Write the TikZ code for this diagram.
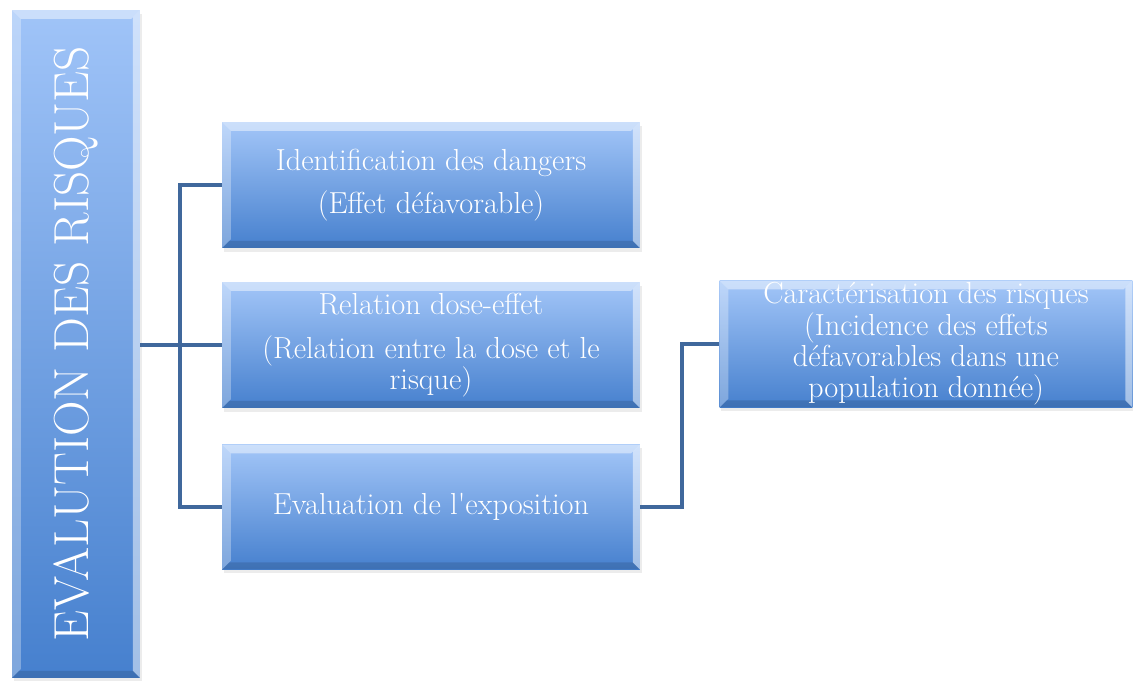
\documentclass[tikz,border=0pt]{standalone}
\usetikzlibrary{shadows}
\definecolor{boxtop}{RGB}{163,198,248}
\definecolor{boxbot}{RGB}{70,128,206}
\definecolor{bartop}{RGB}{160,196,248}
\definecolor{barbot}{RGB}{72,132,212}
\definecolor{linkblue}{RGB}{64,104,156}
\tikzset{
  bevel/.style={path picture={
    \fill[white,opacity=.45] (path picture bounding box.north west) -- (path picture bounding box.north east)
      -- ([shift={(-5pt,-5pt)}]path picture bounding box.north east) -- ([shift={(5pt,-5pt)}]path picture bounding box.north west) -- cycle;
    \fill[white,opacity=.3] (path picture bounding box.north west) -- (path picture bounding box.south west)
      -- ([shift={(5pt,5pt)}]path picture bounding box.south west) -- ([shift={(5pt,-5pt)}]path picture bounding box.north west) -- cycle;
    \fill[white,opacity=.5] (path picture bounding box.north east) -- (path picture bounding box.south east)
      -- ([shift={(-4pt,4pt)}]path picture bounding box.south east) -- ([shift={(-4pt,-4pt)}]path picture bounding box.north east) -- cycle;
    \fill[black,opacity=.12] (path picture bounding box.south west) -- (path picture bounding box.south east)
      -- ([shift={(-4pt,4pt)}]path picture bounding box.south east) -- ([shift={(4pt,4pt)}]path picture bounding box.south west) -- cycle;
  }},
  riskbox/.style={rectangle,bevel,top color=boxtop,bottom color=boxbot,text=white,align=center,
    inner sep=0pt,minimum width=8.36cm,minimum height=2.52cm,
    drop shadow={opacity=.15,shadow xshift=1pt,shadow yshift=-2pt},
    font=\fontsize{17.3}{17.8}\selectfont},
  link/.style={linkblue,line width=2.3pt}
}
\begin{document}
\begin{tikzpicture}[x=0.02cm,y=-0.02cm]
  \useasboundingbox (0,0) rectangle (1133,680);
  \node[riskbox,top color=bartop,minimum width=2.56cm,minimum height=13.36cm,font=\fontsize{28}{32}\selectfont] (bar) at (76,344) {\rotatebox{90}{EVALUTION DES RISQUES}};
  \node[riskbox] (ident) at (431,185) {Identification des dangers\\[6.5pt](Effet défavorable)};
  \node[riskbox] (dose) at (431,345) {Relation dose-effet\\[7pt](Relation entre la dose et le\\risque)};
  \node[riskbox,minimum height=2.5cm] (expo) at (431,507) {Evaluation de l{\textquotesingle}exposition};
  \node[riskbox,minimum width=8.26cm,minimum height=2.54cm] (carac) at (926,344) {Caractérisation des risques\\(Incidence des effets\\défavorables dans une\\population donnée)};
  \coordinate (fork) at (180,345);
  \coordinate (joint) at (682,507);
  \draw[link] (fork -| bar.east) -- (fork);
  \draw[link] (ident.west) -| (fork) |- (expo.west);
  \draw[link] (fork) -- (dose.west);
  \draw[link] (expo.east) -- (joint) |- (carac.west);
\end{tikzpicture}
\end{document}
